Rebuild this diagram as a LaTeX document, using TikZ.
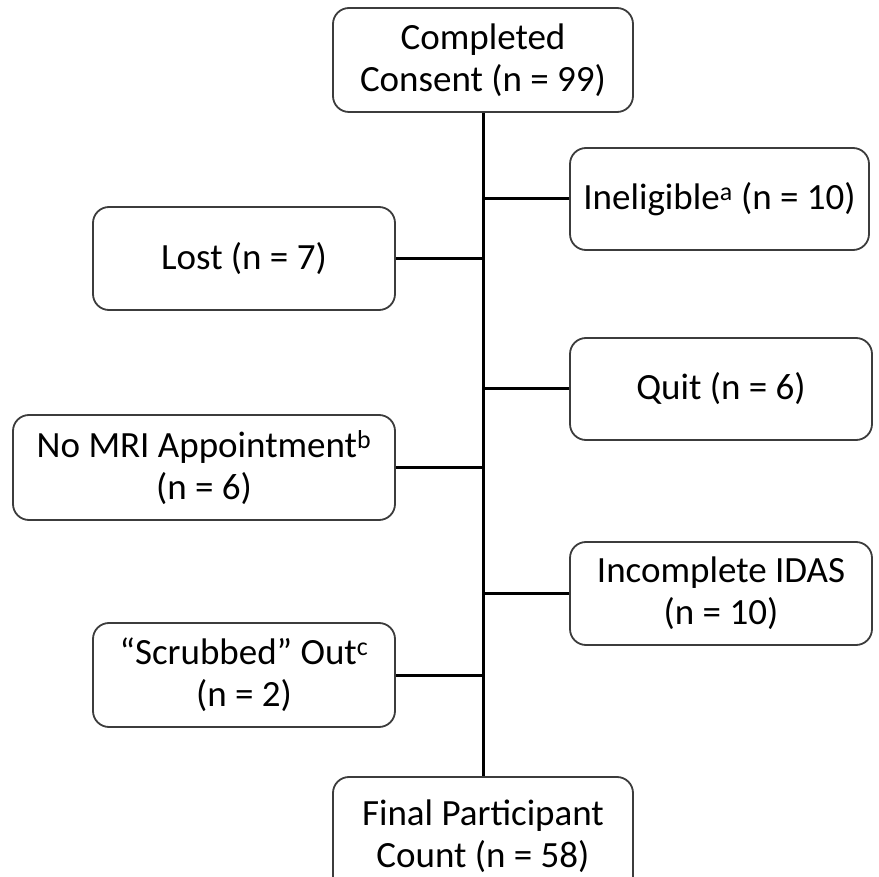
\documentclass[tikz,border=0pt]{standalone}
\usepackage{fontspec}
\setmainfont{Carlito}
\usepackage{xcolor}
\definecolor{boxLine}{RGB}{60, 60, 60}

\begin{document}
\begin{tikzpicture}[x=1pt, y=-1pt,
    box/.style={rectangle, rounded corners=16pt, draw=boxLine, line width=1.8pt, fill=white,
        align=center, inner sep=0pt, font=\fontsize{37}{42}\selectfont},
    link/.style={line width=3pt, black}]
    \useasboundingbox (0,0) rectangle (879,877);
    % Flow diagram
    \node[box, minimum width=300pt, minimum height=104pt] (consent) at (483,60) {Completed\\Consent (n = 99)};
    \node[box, minimum width=299pt, minimum height=102pt] (inelig) at (719.5,199) {Ineligible\textsuperscript{a} (n = 10)};
    \node[box, minimum width=302pt, minimum height=103pt] (lost) at (244,258.5) {Lost (n = 7)};
    \node[box, minimum width=302pt, minimum height=102pt] (quit) at (721,389) {Quit (n = 6)};
    \node[box, minimum width=382pt, minimum height=105pt] (nomri) at (204,467.5) {No MRI Appointment\textsuperscript{b}\\(n = 6)};
    \node[box, minimum width=302pt, minimum height=103pt] (incomp) at (721,593.5) {Incomplete IDAS\\(n = 10)};
    \node[box, minimum width=302pt, minimum height=104pt] (scrub) at (244,675) {“Scrubbed” Out\textsuperscript{c}\\(n = 2)};
    \node[box, minimum width=300pt, minimum height=118pt] (final) at (483,836) {Final Participant\\Count (n = 58)};

    \draw[link] (consent.south) -- (final.north);
    \draw[link] (inelig.west) -- (inelig.west -| consent.south);
    \draw[link] (lost.east) -- (lost.east -| consent.south);
    \draw[link] (quit.west) -- (quit.west -| consent.south);
    \draw[link] (nomri.east) -- (nomri.east -| consent.south);
    \draw[link] (incomp.west) -- (incomp.west -| consent.south);
    \draw[link] (scrub.east) -- (scrub.east -| consent.south);
\end{tikzpicture}
\end{document}
